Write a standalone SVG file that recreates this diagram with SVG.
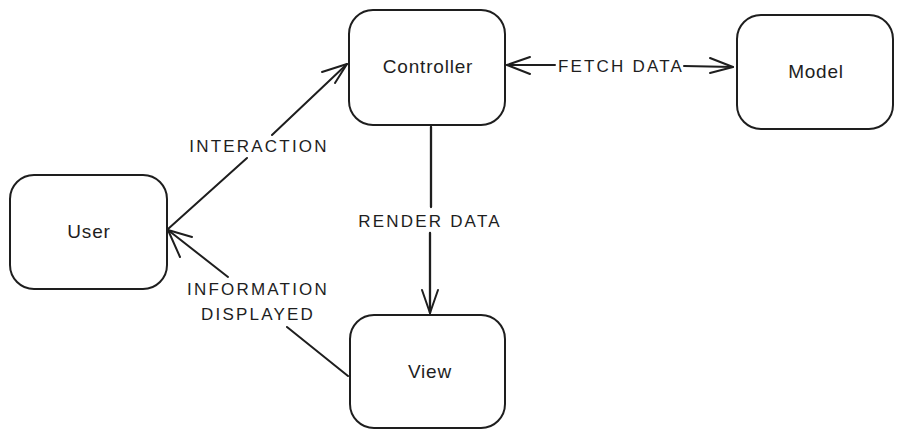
<svg xmlns="http://www.w3.org/2000/svg" width="903" height="439" viewBox="0 0 903 439">
<style>
.box{fill:#ffffff;stroke:#1e1e1e;stroke-width:2}
.lbl{font-family:"Liberation Sans",Arial,sans-serif;font-size:19px;fill:#1e1e1e;text-anchor:middle;letter-spacing:0.8px}
.elbl{font-family:"Liberation Sans",Arial,sans-serif;font-size:17px;fill:#1e1e1e;text-anchor:middle;letter-spacing:2.2px}
.ln{fill:none;stroke:#1e1e1e;stroke-width:2;stroke-linecap:round;stroke-linejoin:round}
</style>
<rect width="903" height="439" fill="#ffffff"/>
<g id="connectors">
  <g id="edge-interaction">
    <path class="ln" d="M168,229 L247,158 M272,135 L347,64"/>
    <path class="ln" d="M322,72 L347,64 L335,83"/>
    <text class="elbl" x="259" y="152">INTERACTION</text>
  </g>
  <g id="edge-fetch">
    <path class="ln" d="M507,65 L555,65 M684,66 L733,67"/>
    <path class="ln" d="M530,57 L507,65 L530,74"/>
    <path class="ln" d="M710,58 L733,67 L710,73"/>
    <text class="elbl" x="621" y="72">FETCH DATA</text>
  </g>
  <g id="edge-render">
    <path class="ln" d="M431,127 L431,207 M430,233 L430,313" style="stroke-width:2.3"/>
    <path class="ln" d="M422,290 L430,313 L438,290"/>
    <text class="elbl" x="430" y="227">RENDER DATA</text>
  </g>
  <g id="edge-info">
    <path class="ln" d="M348,376 L287,327 M228,277 L168,230"/>
    <path class="ln" d="M192,237 L168,230 L180,257"/>
    <text class="elbl" x="258" y="295">INFORMATION</text>
    <text class="elbl" x="258" y="320">DISPLAYED</text>
  </g>
</g>
<g id="node-user">
  <rect class="box" x="10" y="175" width="157" height="114" rx="24"/>
  <text class="lbl" x="89" y="238">User</text>
</g>
<g id="node-controller">
  <rect class="box" x="349" y="10" width="156" height="115" rx="24"/>
  <text class="lbl" x="428" y="73">Controller</text>
</g>
<g id="node-model">
  <rect class="box" x="737" y="15" width="156" height="114" rx="24"/>
  <text class="lbl" x="816" y="78">Model</text>
</g>
<g id="node-view">
  <rect class="box" x="350" y="315" width="155" height="113" rx="24"/>
  <text class="lbl" x="430" y="378">View</text>
</g>
</svg>
